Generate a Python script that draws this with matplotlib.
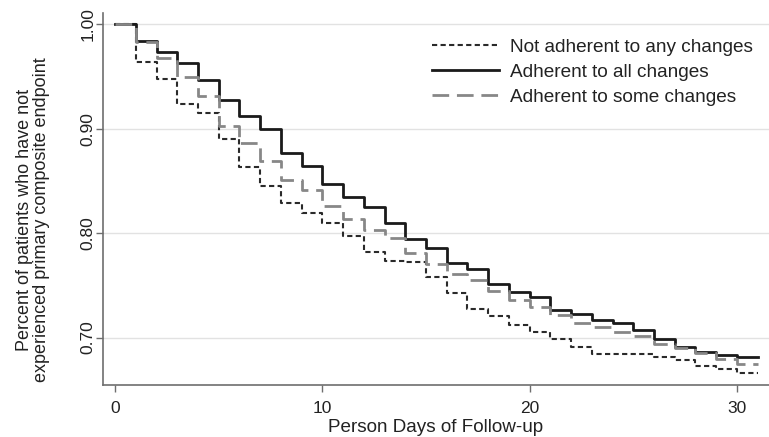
import matplotlib
matplotlib.use("Agg")
import matplotlib.pyplot as plt

plt.rcParams['font.family'] = ['Liberation Sans', 'DejaVu Sans']

# Kaplan-Meier style step values, one per day (value held on [d, d+1))
days = list(range(0, 32))

not_adherent = [1.000, 0.964, 0.948, 0.924, 0.915, 0.890, 0.863, 0.845, 0.829, 0.819,
                0.810, 0.797, 0.782, 0.773, 0.772, 0.758, 0.743, 0.727, 0.721, 0.712,
                0.705, 0.699, 0.691, 0.684, 0.684, 0.684, 0.681, 0.678, 0.673, 0.670,
                0.666, 0.666]

adherent_all = [1.000, 0.984, 0.974, 0.963, 0.947, 0.928, 0.912, 0.900, 0.877, 0.864,
                0.847, 0.835, 0.825, 0.810, 0.794, 0.786, 0.771, 0.766, 0.751, 0.744,
                0.739, 0.726, 0.723, 0.717, 0.714, 0.707, 0.699, 0.691, 0.686, 0.683,
                0.681, 0.681]

adherent_some = [1.000, 0.983, 0.968, 0.950, 0.931, 0.903, 0.886, 0.869, 0.851, 0.841,
                 0.826, 0.814, 0.803, 0.795, 0.781, 0.770, 0.761, 0.755, 0.745, 0.736,
                 0.729, 0.722, 0.714, 0.710, 0.705, 0.701, 0.694, 0.690, 0.685, 0.679,
                 0.675, 0.675]

y_ticks = [0.70, 0.80, 0.90, 1.00]
x_ticks = [0, 10, 20, 30]

fig = plt.figure(figsize=(7.69, 4.37), dpi=100)
ax = fig.add_axes([0.134, 0.119, 0.866, 0.851])

ax.plot(days, not_adherent, drawstyle='steps-post', color='#2a2a2a',
        linewidth=1.5, linestyle=(0, (2.5, 1.6)), label='Not adherent to any changes')
ax.plot(days, adherent_all, drawstyle='steps-post', color='#1a1a1a',
        linewidth=2.0, linestyle='-', label='Adherent to all changes')
ax.plot(days, adherent_some, drawstyle='steps-post', color='#878787',
        linewidth=2.0, linestyle=(0, (6, 2.8)), label='Adherent to some changes')

ax.set_xlim(-0.58, 31.55)
ax.set_ylim(0.6545, 1.0108)
ax.set_xticks(x_ticks)
ax.set_yticks(y_ticks)
ax.set_yticklabels([f"{v:.2f}" for v in y_ticks], rotation=90, va='center')

ax.grid(axis='y', color='#e2e2e2', linewidth=1)
ax.set_axisbelow(True)

for s in ['top', 'right']:
    ax.spines[s].set_visible(False)
for s in ['left', 'bottom']:
    ax.spines[s].set_color('#6e6e6e')
    ax.spines[s].set_linewidth(1.2)

ax.tick_params(axis='both', colors='#6e6e6e', length=5, width=1,
               labelsize=12.5, labelcolor='#222222')
ax.tick_params(axis='x', pad=6.5)
ax.tick_params(axis='y', pad=0.5)

ax.set_xlabel('Person Days of Follow-up', fontsize=13.6, color='#222222', labelpad=2.5)
ax.set_ylabel('Percent of patients who have not\nexperienced primary composite endpoint',
              fontsize=13, color='#222222', linespacing=1.0)
ax.yaxis.set_label_coords(-0.0796, 0.445)

ax.legend(loc='upper left', bbox_to_anchor=(0.5614, 0.9124), bbox_transform=fig.transFigure,
          frameon=False, borderpad=0, borderaxespad=0,
          fontsize=13.7, handlelength=3.52, handletextpad=0.58, labelspacing=0.41,
          labelcolor='#222222')

fig.savefig('out.png', dpi=100)
